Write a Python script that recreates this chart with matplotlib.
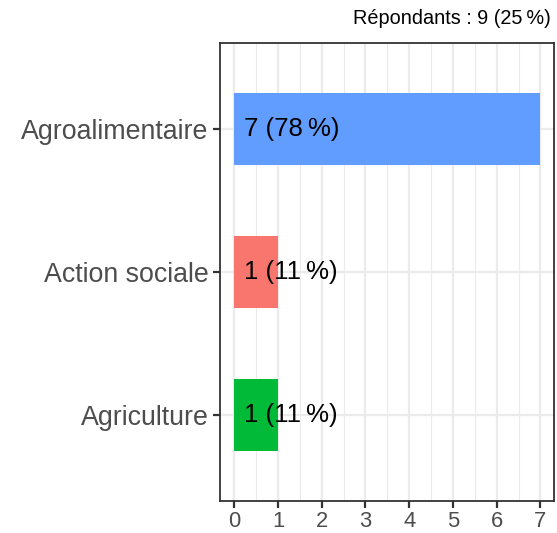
import matplotlib.pyplot as plt
import numpy as np

# data
categories = ['Agriculture', 'Action sociale', 'Agroalimentaire']
counts = [1, 1, 7]
percents = [11, 11, 78]
colors = ['#00BA38', '#F8766D', '#619CFF']
subtitle = 'Répondants : 9 (25\u202f%)'

plt.rcParams['font.family'] = ['Liberation Sans', 'DejaVu Sans']

fig = plt.figure(figsize=(5.57, 5.33), dpi=100)
ax = fig.add_axes([0.3944, 0.06, 0.6002, 0.8593])

ypos = np.arange(1, len(categories) + 1)
ax.barh(ypos, counts, height=0.5, color=colors, zorder=2)

for y, c, p in zip(ypos, counts, percents):
    ax.text(0.22, y, f'{c} ({p}\u202f%)', ha='left', va='center',
            fontsize=18.5, color='black', zorder=3)

ax.set_xlim(-0.334, 7.31)
ax.set_ylim(0.4, 3.6)
ax.set_xticks(range(0, 8))
ax.set_xticks(np.arange(0.5, 7.5, 1), minor=True)
ax.set_yticks(ypos)
ax.set_yticklabels(categories)

ax.grid(True, which='major', color='#EBEBEB', linewidth=1.6, zorder=0)
ax.grid(True, which='minor', axis='x', color='#EBEBEB', linewidth=0.8, zorder=0)
ax.set_axisbelow(True)

for s in ax.spines.values():
    s.set_color('#333333')
    s.set_linewidth(1.3)

ax.tick_params(which='major', length=5, width=1.6, color='#333333',
               labelcolor='#4D4D4D')
ax.tick_params(axis='y', labelsize=19.3, pad=3)
ax.tick_params(axis='x', labelsize=15.8, pad=2)
ax.tick_params(which='minor', length=0)

fig.text(0.9895, 0.948, subtitle, ha='right', va='bottom', fontsize=14.3,
         color='black')

fig.savefig('out.png', dpi=100)
